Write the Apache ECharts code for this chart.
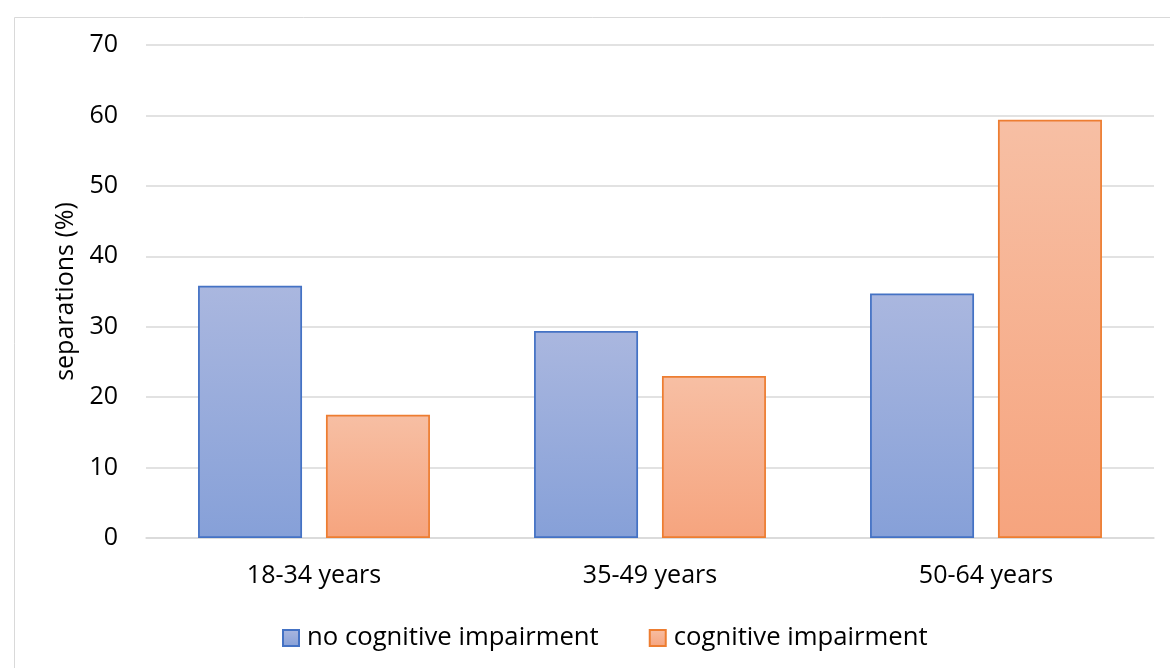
<!DOCTYPE html>
<html>
<head>
<meta charset="utf-8">
<script src="https://cdn.jsdelivr.net/npm/echarts@6/dist/echarts.min.js"></script>
<style>
  html, body { margin: 0; padding: 0; background: #fff; }
  #chart { width: 1170px; height: 668px; }
</style>
</head>
<body>
<div id="chart"></div>
<script>
// Age groups and share of separations (%) per group
const categories = ['18-34 years', '35-49 years', '50-64 years'];
const noImpairment = [35.8, 29.4, 34.7];
const impairment = [17.5, 23.0, 59.4];
const seriesNames = ['no cognitive impairment', 'cognitive impairment'];

const FONT = 'Open Sans';
const FONT_SIZE = 25;

function grad(top, bottom) {
  return new echarts.graphic.LinearGradient(0, 0, 0, 1, [
    { offset: 0, color: top },
    { offset: 1, color: bottom }
  ]);
}

const chart = echarts.init(document.getElementById('chart'), null, { renderer: 'canvas' });
chart.setOption({
  animation: false,
  backgroundColor: '#fff',
  textStyle: { fontFamily: FONT },
  graphic: [{
    type: 'rect',
    left: 12, top: 15,
    shape: { width: 1200, height: 700 },
    style: { fill: 'none', stroke: '#d9d9d9', lineWidth: 1 },
    silent: true
  }],
  grid: { left: 146, right: 16, top: 45, bottom: 130 },
  legend: {
    top: 620,
    left: 277,
    icon: 'rect',
    itemWidth: 16,
    itemHeight: 16,
    itemGap: 50,
    textStyle: { fontFamily: FONT, fontSize: 25.7, color: '#000', padding: [0, 0, 0, 3] },
    data: seriesNames
  },
  xAxis: {
    type: 'category',
    data: categories,
    axisTick: { show: false },
    axisLine: { lineStyle: { color: '#d9d9d9', width: 1.5 } },
    axisLabel: { fontFamily: FONT, fontSize: FONT_SIZE, color: '#000', margin: 25 }
  },
  yAxis: {
    type: 'value',
    min: 0, max: 70, interval: 10,
    name: 'separations (%)',
    nameLocation: 'middle',
    nameGap: 67,
    nameTextStyle: { fontFamily: FONT, fontSize: FONT_SIZE, color: '#000' },
    axisLabel: { fontFamily: FONT, fontSize: FONT_SIZE, color: '#000', margin: 28 },
    splitLine: { lineStyle: { color: '#d9d9d9', width: 1.5 } }
  },
  series: [
    {
      name: seriesNames[0],
      type: 'bar',
      data: noImpairment,
      barWidth: 104,
      barGap: '23%',
      itemStyle: {
        color: grad('#aab7df', '#86a0d8'),
        borderColor: '#4472c4',
        borderWidth: 1.75
      }
    },
    {
      name: seriesNames[1],
      type: 'bar',
      data: impairment,
      barWidth: 104,
      itemStyle: {
        color: grad('#f7bfa4', '#f6a47e'),
        borderColor: '#ed7d31',
        borderWidth: 1.75
      }
    }
  ]
});
</script>
</body>
</html>
